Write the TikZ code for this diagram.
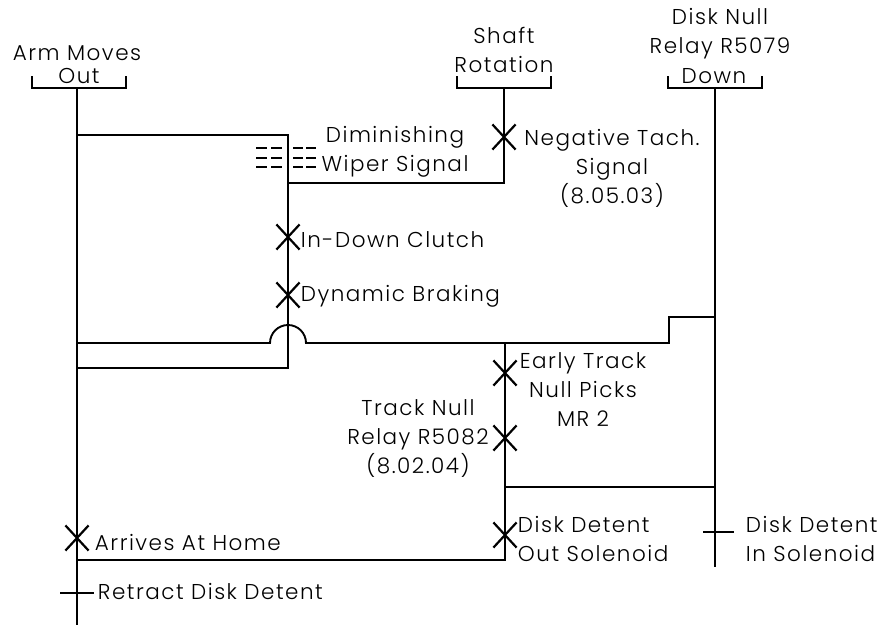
\documentclass[tikz,border=0pt]{standalone}
\usepackage{fontspec}
\setmainfont{Poppins}[UprightFont=* Light,LetterSpace=7]
\usetikzlibrary{shapes.misc}
\begin{document}
\begin{tikzpicture}[x=1pt,y=-1pt,line width=1.9pt,
  lbl/.style={font=\fontsize{21.5}{29}\selectfont,inner sep=0pt,align=center},
  xm/.style={cross out,draw,line width=2.2pt,minimum width=21pt,minimum height=23pt,inner sep=0pt},
  dashmark/.style={line width=1.4pt}]
\useasboundingbox[fill=white] (0,0) rectangle (892,625);
% coordinates
\coordinate (A) at (77,88);
\coordinate (Abot) at (77,625);
\coordinate (S) at (504,88);
\coordinate (D) at (715,88);
\coordinate (Dbot) at (715,567);
\coordinate (t1) at (77,135);
\coordinate (t2) at (288,135);
\coordinate (w1) at (288,183);
\coordinate (w2) at (504,183);
\coordinate (b1) at (288,368);
\coordinate (b2) at (77,368);
\coordinate (h1) at (77,343);
\coordinate (h2) at (270,343);
\coordinate (h3) at (669,343);
\coordinate (h4) at (669,317);
\coordinate (h5) at (715,317);
\coordinate (m1) at (505,343);
\coordinate (m2) at (505,560);
\coordinate (m3) at (77,560);
\coordinate (r1) at (505,487);
\coordinate (r2) at (715,487);
% brackets
\draw (32,76) -- (32,88) -- (126,88) -- (126,76);
\draw (457,76) -- (457,88) -- (551,88) -- (551,76);
\draw (668,76) -- (668,88) -- (762,88) -- (762,76);
% main lines
\draw (A) -- (Abot);
\draw (S) -- (w2) -- (w1);
\draw (D) -- (Dbot);
\draw (t1) -- (t2) -- (b1) -- (b2);
\draw (h1) -- (h2) arc[start angle=180,end angle=360,radius=18] -- (h3) -- (h4) -- (h5);
\draw (m1) -- (m2) -- (m3);
\draw (r1) -- (r2);
% diminishing dashes
\foreach \yy in {148,158,167}{
  \draw[dashmark] (256,\yy) -- (267,\yy) (271,\yy) -- (282,\yy)
              (293,\yy) -- (303,\yy) (306,\yy) -- (316,\yy);
}
% X marks
\node[xm] (xneg) at (504,137) {};
\node[xm] (xin) at (288,237) {};
\node[xm] (xdyn) at (288,295) {};
\node[xm] (xearly) at (505,373) {};
\node[xm] (xtrack) at (505,438) {};
\node[xm] (xout) at (505,535) {};
\node[xm] (xhome) at (77,538) {};
% ticks
\draw (60,593) -- (94,593);
\draw (703,532) -- (734,532);
% labels
\node[lbl] (l1) at (77,53) {Arm Moves};
\node[lbl] (l2) at (79,76) {Out};
\node[lbl] (l3) at (504,50) {Shaft\\Rotation};
\node[lbl] (l4) at (720,34) {Disk Null\\Relay R5079};
\node[lbl] (l5) at (714,76) {Down};
\node[lbl] (l6) at (395,152) {Diminishing\\Wiper Signal};
\node[lbl] (l7) at (612,168) {Negative Tach.\\Signal\\(8.05.03)};
\node[lbl,anchor=west] (l8) at (300,240) {In-Down Clutch};
\node[lbl,anchor=west] (l9) at (300,296) {Dynamic Braking};
\node[lbl] (l10) at (583,390) {Early Track\\Null Picks\\MR 2};
\node[lbl] (l11) at (418,439) {Track Null\\Relay R5082\\(8.02.04)};
\node[lbl,anchor=west] (l12) at (94,542) {Arrives At Home};
\node[lbl,align=left,anchor=west] (l13) at (517,539) {Disk Detent\\Out Solenoid};
\node[lbl,align=left,anchor=west] (l14) at (745,539) {Disk Detent\\In Solenoid};
\node[lbl,anchor=west] (l15) at (97,591) {Retract Disk Detent};
\end{tikzpicture}
\end{document}
